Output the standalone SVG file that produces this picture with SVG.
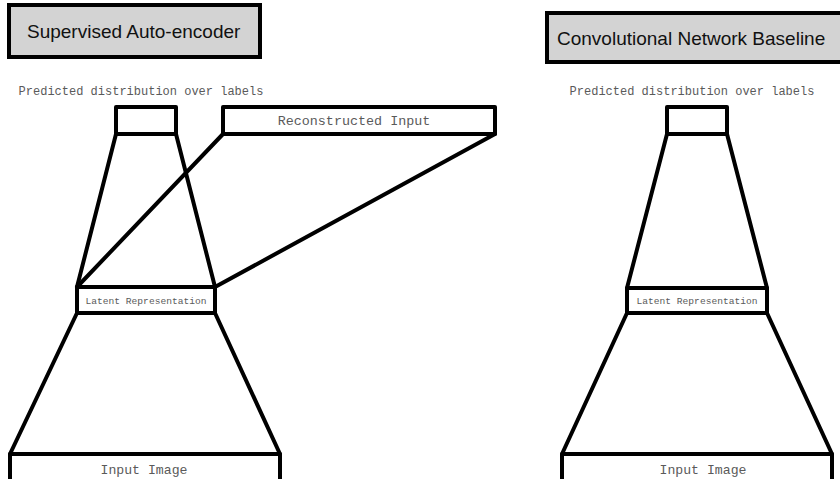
<svg xmlns="http://www.w3.org/2000/svg" width="840" height="479" viewBox="0 0 840 479">
<style>
.title{fill:#d3d3d3;stroke:#000;stroke-width:4}
.tt{font-family:"Liberation Sans",Arial,sans-serif;font-size:19px;fill:#111}
.box{fill:#fff;stroke:#000;stroke-width:4;stroke-linejoin:round}
.ln{stroke:#000;stroke-width:4;stroke-linecap:round;fill:none}
.m{font-family:"Liberation Mono","Courier New",monospace;fill:#5a5a5a;text-anchor:middle}
</style>
<rect width="840" height="479" fill="#fff"/>
<g id="title-left"><rect class="title" x="9" y="5" width="251" height="52"/><text class="tt" x="27" y="38">Supervised Auto-encoder</text></g>
<g id="title-right"><rect class="title" x="547" y="13" width="300" height="49"/><text class="tt" x="557" y="45">Convolutional Network Baseline</text></g>
<g id="connectors">
<line class="ln" x1="116" y1="134" x2="77" y2="287"/>
<line class="ln" x1="176" y1="134" x2="215" y2="287"/>
<line class="ln" x1="223" y1="134" x2="77" y2="287"/>
<line class="ln" x1="495" y1="134" x2="215" y2="287"/>
<line class="ln" x1="77" y1="313" x2="10" y2="454"/>
<line class="ln" x1="215" y1="313" x2="280" y2="454"/>
<line class="ln" x1="667" y1="134" x2="627" y2="288"/>
<line class="ln" x1="727" y1="134" x2="767" y2="288"/>
<line class="ln" x1="627" y1="313" x2="562" y2="454"/>
<line class="ln" x1="767" y1="313" x2="832" y2="454"/>
</g>
<g id="pred-left"><text class="m" x="141" y="95" font-size="12">Predicted distribution over labels</text><rect class="box" x="116" y="107" width="60" height="27"/></g>
<g id="recon"><rect class="box" x="223" y="107" width="272" height="27"/><text class="m" x="354" y="125" font-size="13.4">Reconstructed Input</text></g>
<g id="latent-left"><rect class="box" x="77" y="287" width="138" height="26"/><text class="m" x="146" y="304" font-size="9.6">Latent Representation</text></g>
<g id="input-left"><rect class="box" x="10" y="454" width="270" height="40"/><text class="m" x="144" y="474" font-size="13.2">Input Image</text></g>
<g id="pred-right"><text class="m" x="692" y="95" font-size="12">Predicted distribution over labels</text><rect class="box" x="667" y="107" width="60" height="27"/></g>
<g id="latent-right"><rect class="box" x="627" y="288" width="140" height="25"/><text class="m" x="697" y="304" font-size="9.6">Latent Representation</text></g>
<g id="input-right"><rect class="box" x="562" y="454" width="270" height="40"/><text class="m" x="703" y="474" font-size="13.2">Input Image</text></g>
</svg>
